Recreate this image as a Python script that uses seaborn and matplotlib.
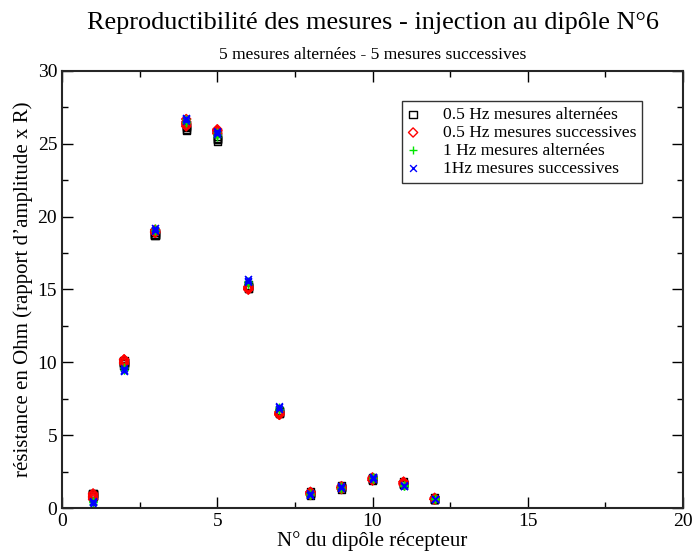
import numpy as np
import pandas as pd
import matplotlib
matplotlib.use("Agg")
import matplotlib.pyplot as plt
import seaborn as sns
from matplotlib.ticker import MultipleLocator

sns.set_style("ticks")
plt.rcParams['font.family'] = ['Liberation Serif', 'DejaVu Serif']
plt.rcParams['text.color'] = 'black'
plt.rcParams['axes.labelcolor'] = 'black'
plt.rcParams['xtick.color'] = 'black'
plt.rcParams['ytick.color'] = 'black'

dipoles = [1, 2, 3, 4, 5, 6, 7, 8, 9, 10, 11, 12]

# five measurements per dipole for each series
alt_05 = [
    [1.0, 0.9, 1.0, 0.8, 0.9],
    [10.0, 9.9, 10.1, 9.8, 10.0],
    [18.7, 18.8, 18.9, 18.8, 18.7],
    [25.9, 26.1, 26.3, 26.0, 26.2],
    [25.3, 25.4, 25.2, 25.5, 25.3],
    [15.2, 15.1, 15.3, 15.2, 15.1],
    [6.6, 6.5, 6.7, 6.6, 6.5],
    [1.0, 1.1, 0.9, 1.0, 1.0],
    [1.4, 1.3, 1.4, 1.5, 1.4],
    [2.0, 1.9, 2.1, 2.0, 2.0],
    [1.7, 1.6, 1.8, 1.7, 1.6],
    [0.6, 0.6, 0.7, 0.6, 0.6],
]
succ_05 = [
    [0.8, 0.6, 1.0, 0.7, 0.9],
    [10.2, 10.1, 10.0, 9.9, 10.2],
    [19.0, 18.9, 19.1, 19.0, 18.9],
    [26.3, 26.5, 26.7, 26.2, 26.4],
    [25.9, 26.0, 25.8, 25.7, 25.9],
    [15.0, 15.1, 15.2, 15.0, 15.1],
    [6.4, 6.5, 6.6, 6.4, 6.5],
    [1.1, 1.0, 1.1, 0.9, 1.0],
    [1.4, 1.3, 1.4, 1.5, 1.4],
    [1.9, 2.0, 2.1, 1.9, 2.0],
    [1.8, 1.7, 1.8, 1.6, 1.7],
    [0.6, 0.7, 0.6, 0.6, 0.6],
]
alt_1 = [
    [0.4, 0.5, 0.3, 0.4, 0.5],
    [9.5, 9.6, 9.5, 9.7, 9.6],
    [19.1, 19.0, 19.2, 19.1, 19.0],
    [26.5, 26.6, 26.4, 26.7, 26.5],
    [25.6, 25.7, 25.5, 25.8, 25.6],
    [15.5, 15.4, 15.6, 15.5, 15.4],
    [6.8, 6.7, 6.9, 6.8, 6.7],
    [0.9, 1.0, 0.9, 1.0, 0.9],
    [1.4, 1.5, 1.4, 1.3, 1.4],
    [2.1, 2.0, 2.0, 2.1, 2.0],
    [1.5, 1.6, 1.5, 1.6, 1.5],
    [0.6, 0.6, 0.6, 0.7, 0.6],
]
succ_1 = [
    [0.4, 0.3, 0.5, 0.4, 0.4],
    [9.4, 9.5, 9.4, 9.6, 9.5],
    [19.2, 19.1, 19.2, 19.0, 19.1],
    [26.8, 26.7, 26.8, 26.6, 26.7],
    [25.8, 25.7, 25.9, 25.8, 25.7],
    [15.6, 15.7, 15.5, 15.6, 15.7],
    [6.9, 6.8, 6.9, 7.0, 6.8],
    [0.9, 0.9, 1.0, 0.9, 0.9],
    [1.4, 1.5, 1.4, 1.5, 1.4],
    [2.1, 2.0, 2.1, 2.0, 2.1],
    [1.5, 1.5, 1.6, 1.5, 1.5],
    [0.6, 0.6, 0.6, 0.6, 0.6],
]

labels = ["0.5 Hz mesures alternées", "0.5 Hz mesures successives",
          "1 Hz mesures alternées", "1Hz mesures successives"]
series = [alt_05, succ_05, alt_1, succ_1]

rows = []
for lab, vals in zip(labels, series):
    for d, v in zip(dipoles, vals):
        for y in v:
            rows.append({"dipole": d, "R": y, "serie": lab})
df = pd.DataFrame(rows)

fig = plt.figure(figsize=(6.93, 5.52), dpi=100)
ax = fig.add_axes([0.0895, 0.0797, 0.8961, 0.7917])

styles = [
    dict(marker="s", facecolor="none", edgecolor="black", s=28, linewidth=1.0),
    dict(marker="D", facecolor="none", edgecolor="red", s=22, linewidth=1.0),
    dict(marker="+", color="#00e600", s=40, linewidth=1.0),
    dict(marker="x", color="blue", s=24, linewidth=1.0),
]
for lab, st in zip(labels, styles):
    sub = df[df["serie"] == lab]
    sns.scatterplot(data=sub, x="dipole", y="R", ax=ax, label=lab, **st)

ax.set_xlim(0, 20)
ax.set_ylim(0, 30)
ax.xaxis.set_major_locator(MultipleLocator(5))
ax.xaxis.set_minor_locator(MultipleLocator(2.5))
ax.yaxis.set_major_locator(MultipleLocator(5))
ax.yaxis.set_minor_locator(MultipleLocator(2.5))
ax.tick_params(which="both", direction="in", top=True, right=True, labelsize=14, width=1.0)
ax.tick_params(which="major", length=8)
ax.tick_params(which="minor", length=4)
for sp in ax.spines.values():
    sp.set_linewidth(1.5)

ax.set_xlabel("N° du dipôle récepteur", fontsize=15, labelpad=1)
ax.set_ylabel("résistance en Ohm (rapport d\u2019amplitude x R)", fontsize=15, labelpad=3)

fig.text(0.5377, 0.958, "Reproductibilité des mesures - injection au dipôle N°6",
         ha="center", va="center", fontsize=18.9)
fig.text(0.5377, 0.901, "5 mesures alternées - 5 mesures successives",
         ha="center", va="center", fontsize=12.6)

leg = ax.legend(loc="upper left", bbox_to_anchor=(0.547, 0.932), fontsize=12.6,
                frameon=True, fancybox=False, edgecolor="black",
                handletextpad=1.4, borderpad=0.35, labelspacing=0.1,
                handlelength=0.6, borderaxespad=0)
leg.get_frame().set_linewidth(1.0)

fig.savefig("out.png", dpi=100)
